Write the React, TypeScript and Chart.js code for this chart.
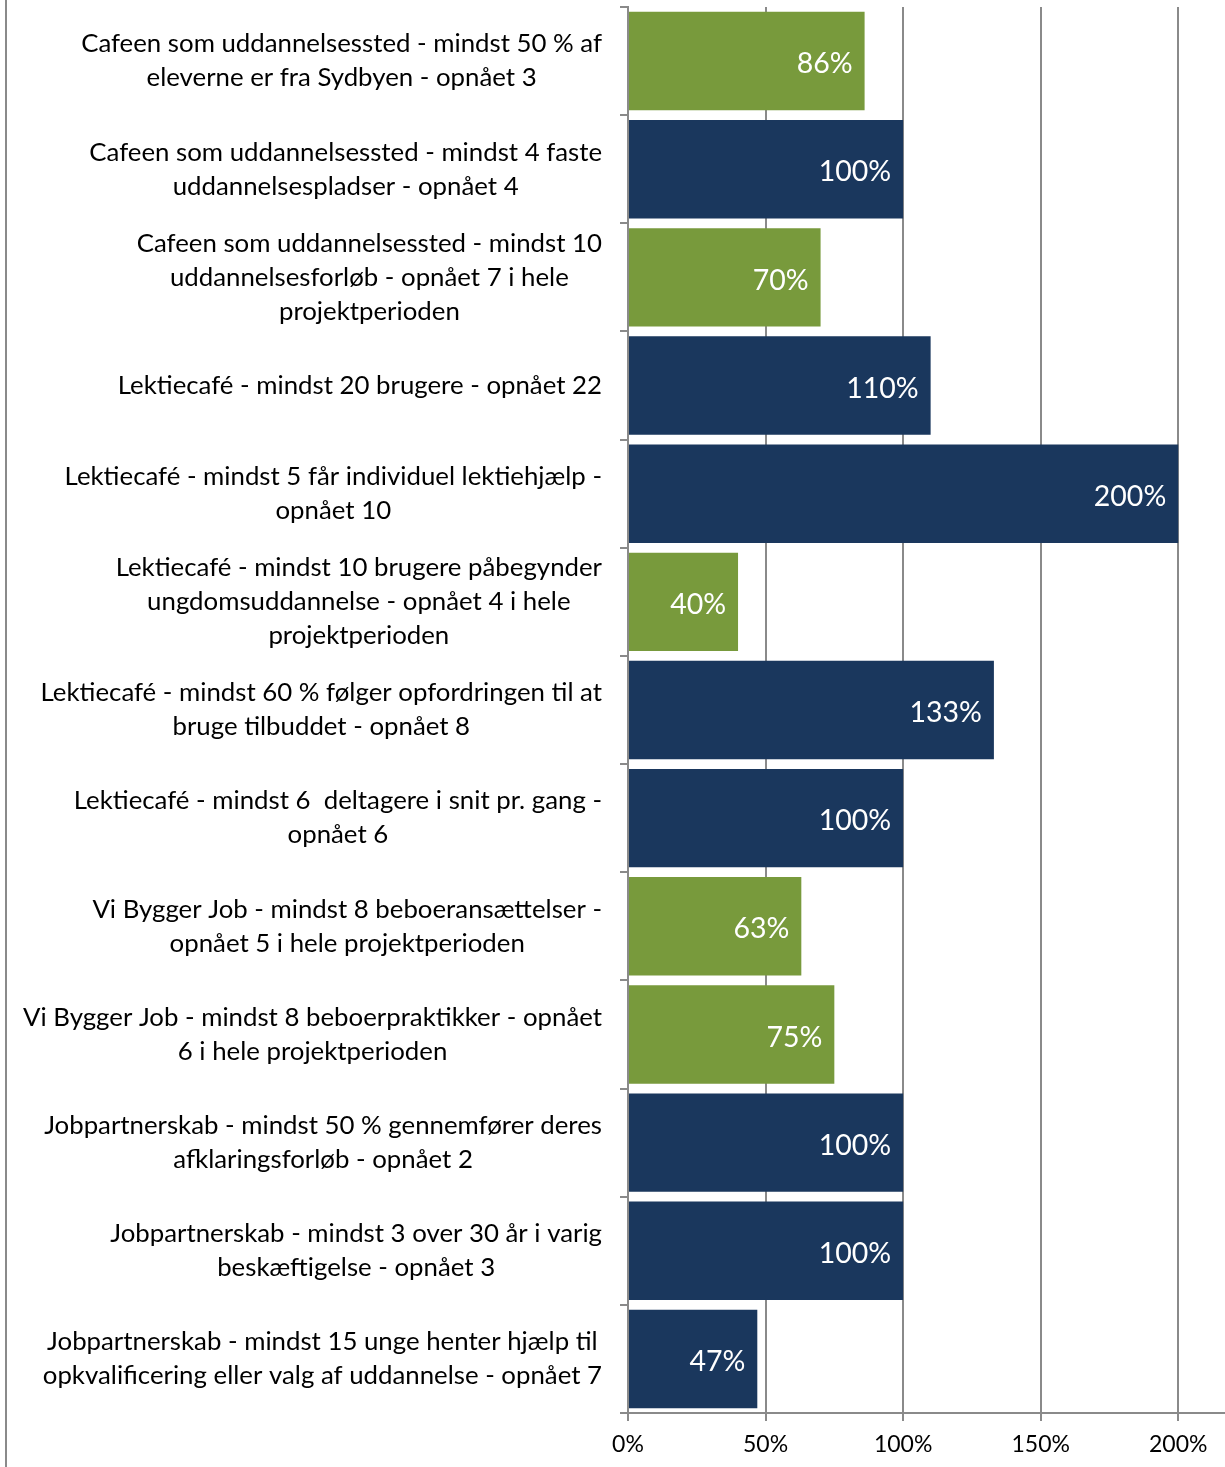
import { useEffect, useRef } from "react";
import { Chart, registerables } from "chart.js";

Chart.register(...registerables);

const categories: string[][] = [
  ["Cafeen som uddannelsessted - mindst 50 % af", "eleverne er fra Sydbyen - opnået 3"],
  ["Cafeen som uddannelsessted - mindst 4 faste", "uddannelsespladser - opnået 4"],
  ["Cafeen som uddannelsessted - mindst 10", "uddannelsesforløb - opnået 7 i hele", "projektperioden"],
  ["Lektiecafé - mindst 20 brugere - opnået 22"],
  ["Lektiecafé - mindst 5 får individuel lektiehjælp -", "opnået 10"],
  ["Lektiecafé - mindst 10 brugere påbegynder", "ungdomsuddannelse - opnået 4 i hele", "projektperioden"],
  ["Lektiecafé - mindst 60 % følger opfordringen til at", "bruge tilbuddet - opnået 8"],
  ["Lektiecafé - mindst 6  deltagere i snit pr. gang -", "opnået 6"],
  ["Vi Bygger Job - mindst 8 beboeransættelser -", "opnået 5 i hele projektperioden"],
  ["Vi Bygger Job - mindst 8 beboerpraktikker - opnået", "6 i hele projektperioden"],
  ["Jobpartnerskab - mindst 50 % gennemfører deres", "afklaringsforløb - opnået 2"],
  ["Jobpartnerskab - mindst 3 over 30 år i varig", "beskæftigelse - opnået 3"],
  ["Jobpartnerskab - mindst 15 unge henter hjælp til", "opkvalificering eller valg af uddannelse - opnået 7"],
];

const values: number[] = [86, 100, 70, 110, 200, 40, 133, 100, 63, 75, 100, 100, 47];

// "g" = green (under target), "b" = dark blue (target reached)
const colorKeys: string[] = ["g", "b", "g", "b", "b", "g", "b", "b", "g", "g", "b", "b", "b"];

const xTicks: number[] = [0, 50, 100, 150, 200];

const GREEN = "#789a3c";
const BLUE = "#1a375d";
const GRID = "#8a8a8a";
const FONT = "Lato, 'Open Sans', sans-serif";

export default function App() {
  const ref = useRef<HTMLCanvasElement | null>(null);

  useEffect(() => {
    if (!ref.current) return;

    const frameAndLabels = {
      id: "frameAndLabels",
      afterDraw(chart: any) {
        const ctx = chart.ctx as CanvasRenderingContext2D;
        const area = chart.chartArea;
        ctx.save();
        // outer frame line on the left
        ctx.strokeStyle = GRID;
        ctx.lineWidth = 2;
        ctx.beginPath();
        ctx.moveTo(6, 0);
        ctx.lineTo(6, chart.height);
        ctx.stroke();

        // category labels: block right aligned, lines centered in block
        const yScale = chart.scales.y;
        ctx.font = `25.8px ${FONT}`;
        ctx.fillStyle = "#000";
        ctx.textBaseline = "middle";
        ctx.textAlign = "center";
        const right = area.left - 26;
        const lh = 34;
        categories.forEach((lines, i) => {
          const yc = yScale.getPixelForValue(i);
          const w = Math.max(...lines.map((l) => ctx.measureText(l).width));
          const cx = right - w / 2;
          lines.forEach((l, j) => {
            ctx.fillText(l, cx, yc + (j - (lines.length - 1) / 2) * lh);
          });
        });

        // data labels inside bar ends
        const meta = chart.getDatasetMeta(0);
        ctx.font = `28.5px ${FONT}`;
        ctx.fillStyle = "#fff";
        ctx.textAlign = "right";
        meta.data.forEach((bar: any, i: number) => {
          ctx.fillText(`${values[i]}%`, bar.x - 12, bar.y + 3);
        });
        ctx.restore();
      },
    };

    const chart = new Chart(ref.current, {
      type: "bar",
      data: {
        labels: categories.map((c) => c.join(" ")),
        datasets: [
          {
            data: values,
            backgroundColor: colorKeys.map((k) => (k === "g" ? GREEN : BLUE)),
            borderWidth: 0,
            barPercentage: 0.91,
            categoryPercentage: 1,
          },
        ],
      },
      options: {
        indexAxis: "y",
        animation: false,
        responsive: false,
        maintainAspectRatio: false,
        layout: { padding: { top: 7, left: 0, right: 0, bottom: 0 } },
        plugins: {
          legend: { display: false },
          tooltip: { enabled: false },
        },
        scales: {
          y: {
            type: "category",
            ticks: { display: false },
            grid: {
              drawOnChartArea: false,
              drawTicks: true,
              tickLength: 8,
              color: GRID,
              lineWidth: 2,
              offset: true,
            },
            border: { color: GRID, width: 2 },
            afterFit: (s: any) => {
              s.width = 628;
            },
          },
          x: {
            type: "linear",
            min: 0,
            max: 217,
            afterBuildTicks: (s: any) => {
              s.ticks = xTicks.map((v) => ({ value: v }));
            },
            ticks: {
              callback: (v: any) => `${v}%`,
              font: { family: FONT, size: 23 },
              color: "#000",
              padding: 10,
              maxRotation: 0,
              autoSkip: false,
            },
            grid: { color: GRID, lineWidth: 2, tickLength: 8 },
            border: { color: GRID, width: 2 },
            afterFit: (s: any) => {
              s.height = 54;
            },
          },
        },
      },
      plugins: [frameAndLabels],
    } as any);

    return () => chart.destroy();
  }, []);

  return (
    <div style={{ position: "absolute", left: 0, top: 0, width: 1225, height: 1467, background: "#fff" }}>
      <canvas ref={ref} width={1225} height={1467} style={{ display: "block" }} />
    </div>
  );
}
